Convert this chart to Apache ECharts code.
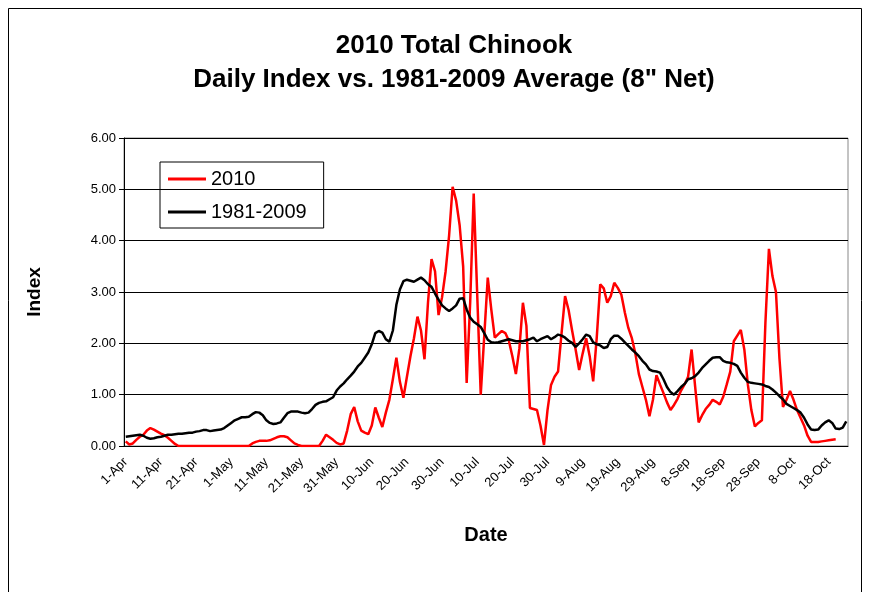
<!DOCTYPE html>
<html>
<head>
<meta charset="utf-8">
<script src="https://cdn.jsdelivr.net/npm/echarts@6/dist/echarts.min.js"></script>
<style>
  html, body { margin: 0; padding: 0; background: #fff; }
  #chart { width: 870px; height: 592px; }
</style>
</head>
<body>
<div id="chart"></div>
<script>
// categories: one per day, 1-Apr .. 23-Oct
const monthNames = ["Apr", "May", "Jun", "Jul", "Aug", "Sep", "Oct"];
const monthDays = [30, 31, 30, 31, 31, 30, 23];

// 1981-2009 average daily index
const avg8109 = [
  0.18,0.19,0.20,0.21,0.22,0.20,0.16,0.14,0.15,0.17,
  0.18,0.20,0.22,0.22,0.23,0.24,0.24,0.25,0.26,0.26,
  0.28,0.29,0.31,0.31,0.29,0.30,0.31,0.32,0.35,0.40,
  0.45,0.50,0.53,0.56,0.56,0.57,0.62,0.66,0.65,0.60,
  0.50,0.45,0.43,0.44,0.46,0.55,0.64,0.67,0.67,0.67,
  0.65,0.64,0.65,0.72,0.80,0.84,0.86,0.87,0.91,0.95,
  1.08,1.16,1.22,1.30,1.37,1.45,1.55,1.62,1.72,1.82,
  1.98,2.20,2.24,2.21,2.08,2.03,2.25,2.75,3.05,3.21,
  3.24,3.22,3.20,3.24,3.28,3.23,3.15,3.10,2.97,2.85,
  2.74,2.68,2.63,2.68,2.74,2.87,2.88,2.66,2.50,2.42,
  2.37,2.32,2.20,2.07,2.02,2.01,2.02,2.04,2.06,2.08,
  2.06,2.04,2.04,2.04,2.06,2.08,2.11,2.04,2.08,2.11,
  2.14,2.08,2.12,2.17,2.15,2.11,2.05,2.01,1.93,2.00,
  2.08,2.17,2.14,2.02,1.98,1.96,1.91,1.93,2.08,2.15,
  2.15,2.09,2.02,1.95,1.88,1.82,1.75,1.66,1.59,1.49,
  1.46,1.45,1.43,1.30,1.15,1.05,1.00,1.07,1.15,1.21,
  1.30,1.32,1.36,1.43,1.52,1.59,1.66,1.72,1.73,1.73,
  1.66,1.63,1.62,1.60,1.56,1.43,1.33,1.25,1.23,1.22,
  1.21,1.20,1.17,1.15,1.10,1.04,0.97,0.91,0.82,0.78,
  0.74,0.70,0.65,0.55,0.42,0.32,0.31,0.32,0.40,0.46,
  0.50,0.45,0.34,0.33,0.36,0.48
];

// 2010 daily index
const idx2010 = [
  0.09,0.03,0.05,0.12,0.18,0.22,0.30,0.35,0.32,0.28,
  0.24,0.21,0.16,0.10,0.04,0,0,0,0,0,
  0,0,0,0,0,0,0,0,0,0,
  0,0,0,0,0,0,0.05,0.08,0.10,0.10,
  0.10,0.11,0.14,0.17,0.19,0.19,0.17,0.11,0.05,0.02,
  0,0,0,0,0,0,0.10,0.22,0.17,0.12,
  0.06,0.03,0.05,0.30,0.62,0.76,0.48,0.30,0.26,0.23,
  0.40,0.75,0.55,0.37,0.65,0.90,1.30,1.72,1.25,0.94,
  1.35,1.75,2.10,2.52,2.25,1.69,2.80,3.64,3.40,2.55,
  2.90,3.40,4.10,5.05,4.78,4.30,3.50,1.23,2.80,4.92,
  2.95,1.00,2.14,3.28,2.66,2.11,2.18,2.24,2.20,2.05,
  1.75,1.40,1.90,2.79,2.34,0.74,0.72,0.70,0.40,0.02,
  0.70,1.19,1.35,1.45,2.20,2.92,2.65,2.25,1.88,1.48,
  1.80,2.10,1.75,1.26,2.10,3.15,3.07,2.79,2.92,3.18,
  3.08,2.95,2.60,2.30,2.10,1.80,1.40,1.15,0.90,0.58,
  0.90,1.38,1.20,1.03,0.85,0.70,0.80,0.92,1.08,1.20,
  1.35,1.88,1.16,0.46,0.60,0.72,0.80,0.90,0.86,0.81,
  0.96,1.20,1.45,2.04,2.15,2.26,1.88,1.20,0.70,0.38,
  0.45,0.50,2.40,3.84,3.31,3.00,1.70,0.76,0.90,1.07,
  0.90,0.70,0.55,0.40,0.20,0.08,0.08,0.08,0.09,0.10,
  0.11,0.12,0.13,null,null,null
];

const yTicks = [0, 1, 2, 3, 4, 5, 6];

const days = [];
monthNames.forEach((m, k) => {
  for (let d = 1; d <= monthDays[k]; d++) days.push(d + "-" + m);
});

const font = "'Liberation Sans', Arial, sans-serif";
const chart = echarts.init(document.getElementById("chart"));

chart.setOption({
  backgroundColor: "#fff",
  animation: false,
  title: {
    text: "2010 Total Chinook\nDaily Index vs. 1981-2009 Average (8\" Net)",
    left: 449,
    top: 24,
    textAlign: "center",
    textStyle: { fontFamily: font, fontSize: 26, fontWeight: "bold", color: "#000", lineHeight: 34 }
  },
  graphic: [{
    type: "rect",
    shape: { x: 8.5, y: 8.5, width: 853, height: 600 },
    style: { fill: "none", stroke: "#000", lineWidth: 1 },
    silent: true
  }],
  legend: {
    orient: "vertical",
    left: 160,
    top: 162,
    padding: [7, 17, 6, 8],
    itemGap: 13,
    itemWidth: 38,
    itemHeight: 3,
    icon: "rect",
    borderColor: "#000",
    borderWidth: 1,
    textStyle: { fontFamily: font, fontSize: 20, color: "#000" },
    data: ["2010", "1981-2009"]
  },
  grid: { left: 124, right: 22, top: 138, bottom: 146, show: true, borderColor: "#888", borderWidth: 1 },
  xAxis: {
    type: "category",
    data: days,
    boundaryGap: true,
    name: "Date",
    nameLocation: "middle",
    nameGap: 79,
    nameTextStyle: { fontFamily: font, fontSize: 20, fontWeight: "bold", color: "#000" },
    axisLine: { lineStyle: { color: "#000", width: 1 } },
    axisTick: { interval: 0, length: 4, lineStyle: { color: "#000" } },
    axisLabel: { interval: 9, rotate: 45, margin: 14, fontFamily: font, fontSize: 13, color: "#000" },
    splitLine: { show: false }
  },
  yAxis: {
    type: "value",
    min: yTicks[0],
    max: yTicks[yTicks.length - 1],
    interval: 1,
    name: "Index",
    nameLocation: "middle",
    nameGap: 80,
    nameRotate: 90,
    nameTextStyle: { fontFamily: font, fontSize: 19, fontWeight: "bold", color: "#000" },
    axisLine: { show: true, lineStyle: { color: "#000", width: 1 } },
    axisTick: { show: true, length: 5, lineStyle: { color: "#000" } },
    axisLabel: { margin: 8, fontFamily: font, fontSize: 13, color: "#000", formatter: v => v.toFixed(2) },
    splitLine: { show: true, lineStyle: { color: "#000", width: 1 } }
  },
  series: [
    {
      name: "2010",
      type: "line",
      data: idx2010,
      showSymbol: false,
      connectNulls: false,
      lineStyle: { color: "#ff0000", width: 2.5 },
      itemStyle: { color: "#ff0000" },
      z: 3
    },
    {
      name: "1981-2009",
      type: "line",
      data: avg8109,
      showSymbol: false,
      lineStyle: { color: "#000", width: 2.5 },
      itemStyle: { color: "#000" },
      z: 4
    }
  ]
});
</script>
</body>
</html>
